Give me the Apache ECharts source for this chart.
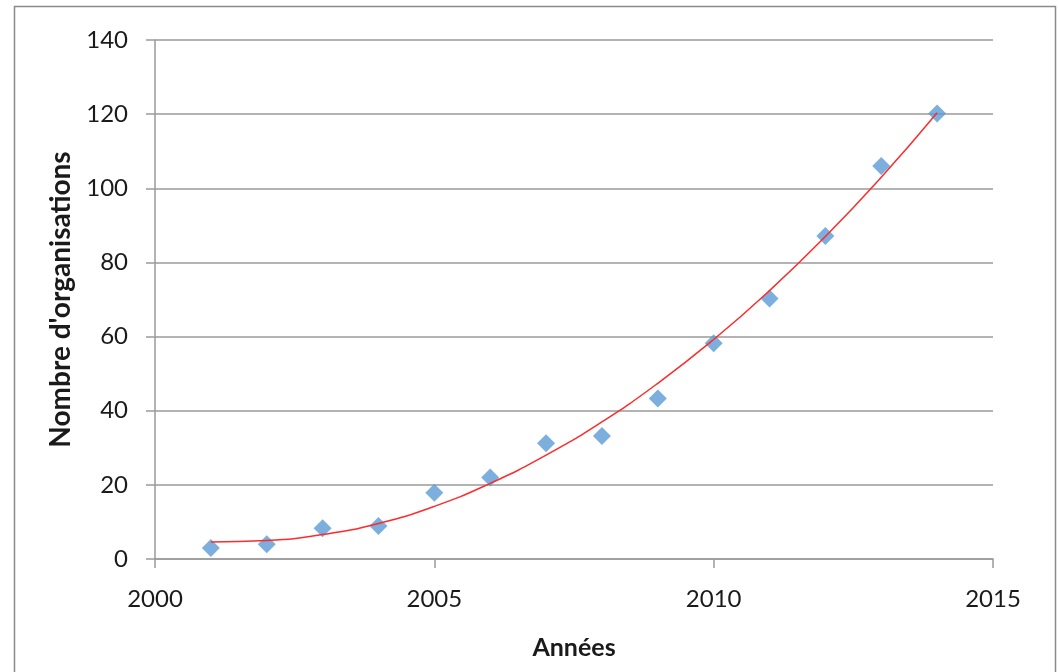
<!DOCTYPE html>
<html>
<head>
<meta charset="utf-8">
<script src="https://cdn.jsdelivr.net/npm/echarts@6/dist/echarts.min.js"></script>
<style>
  html, body { margin: 0; padding: 0; background: #fff; }
  #chart { width: 1059px; height: 672px; }
</style>
</head>
<body>
<div id="chart"></div>
<script>
// données
const years = [2001, 2002, 2003, 2004, 2005, 2006, 2007, 2008, 2009, 2010, 2011, 2012, 2013, 2014];
const organisations = [3, 4, 8.3, 8.9, 17.9, 22, 31.2, 33.2, 43.3, 58.2, 70.3, 87.1, 106, 120.2];
// courbe de tendance (valeurs relevées à chaque année)
const trend = [4.6, 5.0, 6.6, 9.6, 14.2, 20.4, 28.0, 37.0, 47.4, 59.2, 72.4, 87.0, 103.0, 120.4];
const yTicks = [0, 20, 40, 60, 80, 100, 120, 140];
const xTicks = [2000, 2005, 2010, 2015];

const chart = echarts.init(document.getElementById('chart'));

const font = 'Lato, "Noto Sans", sans-serif';
const gridColor = '#9a9a9a';

chart.setOption({
  animation: false,
  textStyle: { fontFamily: font },
  graphic: [{
    type: 'rect',
    shape: { x: 14.5, y: 6.5, width: 1041, height: 700 },
    style: { fill: 'none', stroke: '#8a8a8a', lineWidth: 1.5 },
    silent: true
  }],
  grid: { left: 155, right: 66, top: 40, bottom: 113 },
  xAxis: {
    type: 'value',
    min: xTicks[0],
    max: xTicks[xTicks.length - 1],
    interval: 5,
    name: 'Années',
    nameLocation: 'middle',
    nameGap: 76,
    nameTextStyle: { fontSize: 25, fontWeight: 'bold', color: '#1a1a1a', fontFamily: font },
    axisLine: { show: true, lineStyle: { color: gridColor, width: 1.5 } },
    axisTick: { show: true, length: 9, lineStyle: { color: gridColor, width: 1.5 } },
    axisLabel: { fontSize: 24, color: '#1a1a1a', margin: 28, fontFamily: font, formatter: v => String(v) },
    splitLine: { show: false }
  },
  yAxis: {
    type: 'value',
    min: yTicks[0],
    max: yTicks[yTicks.length - 1],
    interval: 20,
    name: "Nombre d'organisations",
    nameLocation: 'middle',
    nameGap: 80,
    nameTextStyle: { fontSize: 28, fontWeight: 'bold', color: '#1a1a1a', fontFamily: font },
    axisLine: { show: true, lineStyle: { color: gridColor, width: 1.5 } },
    axisTick: { show: true, length: 9, lineStyle: { color: gridColor, width: 1.5 } },
    axisLabel: { fontSize: 24, color: '#1a1a1a', margin: 27, fontFamily: font },
    splitLine: { show: true, lineStyle: { color: gridColor, width: 1.5 } }
  },
  series: [
    {
      type: 'line',
      data: years.map((y, i) => [y, trend[i]]),
      smooth: true,
      showSymbol: false,
      lineStyle: { color: '#ff2a2a', width: 1.5 },
      z: 3
    },
    {
      type: 'scatter',
      data: years.map((y, i) => [y, organisations[i]]),
      symbol: 'diamond',
      symbolSize: 18,
      itemStyle: { color: '#5b9bd5' },
      z: 2
    }
  ]
});
</script>
</body>
</html>
